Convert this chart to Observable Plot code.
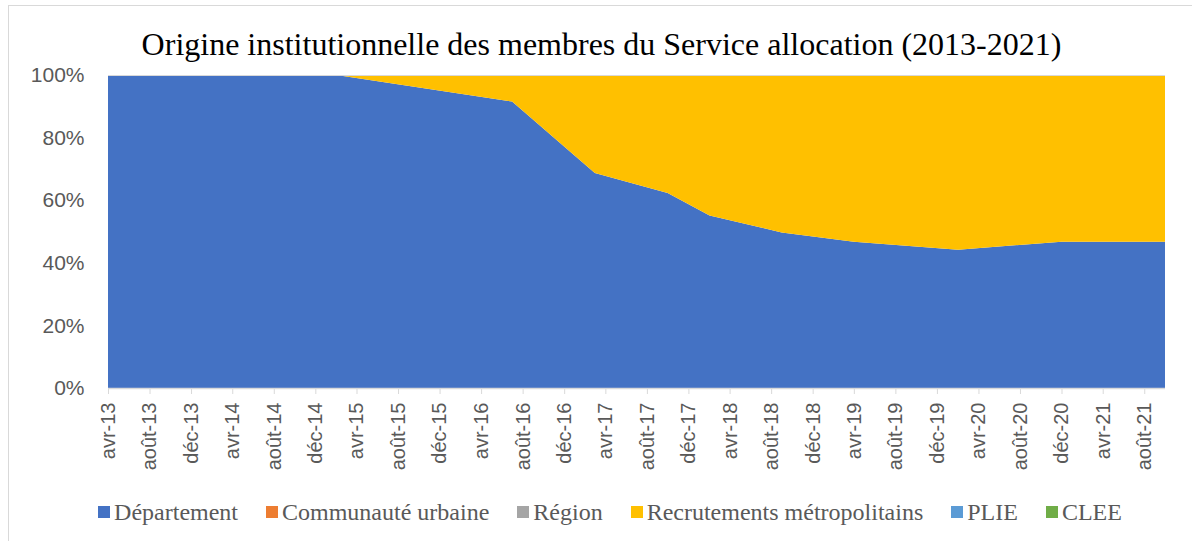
<!DOCTYPE html>
<html><head><meta charset="utf-8">
<script src="https://cdn.jsdelivr.net/npm/d3@7"></script>
<script src="https://cdn.jsdelivr.net/npm/@observablehq/plot@0.6"></script>
<style>
body{margin:0;background:#fff;}
#wrap{position:relative;width:1192px;height:541px;overflow:hidden;background:#fff;}
#frame{position:absolute;left:8px;top:5px;width:1300px;height:600px;border:1px solid #d9d9d9;}
#title{position:absolute;left:0;width:1203px;top:28px;text-align:center;font-family:"Liberation Serif";font-size:32px;color:#000;white-space:nowrap;line-height:1;}
#chart{position:absolute;left:0;top:0;}
#legend{position:absolute;top:500px;left:0;width:1220px;display:flex;justify-content:center;font-family:"Liberation Serif";font-size:24px;color:#595959;white-space:nowrap;line-height:1;}
.item{display:flex;align-items:center;margin:0 14px;}
.sw{width:12px;height:12px;margin-right:4px;display:inline-block;}
</style>
</head><body>
<div id="wrap">
  <div id="frame"></div>
  <div id="chart"></div>
  <div id="title">Origine institutionnelle des membres du Service allocation (2013-2021)</div>
  <div id="legend"></div>
</div>
<script>
// Dates of the data points
const dates = ["2013-04-01","2015-02-01","2016-07-01","2017-03-01","2017-10-01","2018-02-01","2018-09-01","2019-04-01","2020-02-01","2020-12-01","2021-10-01"];
// Shares in % of each institutional origin
const departement  = [100, 100, 91.5, 68.7, 62.3, 55.1, 49.7, 46.7, 44.2, 46.7, 46.7];
const communaute   = [0, 0, 0, 0, 0, 0, 0, 0, 0, 0, 0];
const region       = [0, 0, 0, 0, 0, 0, 0, 0, 0, 0, 0];
const recrutements = [0, 0, 8.5, 31.3, 37.7, 44.9, 50.3, 53.3, 55.8, 53.3, 53.3];
const plie         = [0, 0, 0, 0, 0, 0, 0, 0, 0, 0, 0];
const clee         = [0, 0, 0, 0, 0, 0, 0, 0, 0, 0, 0];

const seriesNames = ["Département","Communauté urbaine","Région","Recrutements métropolitains","PLIE","CLEE"];
const seriesValues = [departement, communaute, region, recrutements, plie, clee];
const seriesColors = ["#4472C4","#ED7D31","#A5A5A5","#FFC000","#5B9BD5","#70AD47"];

const tickLabels = ["avr-13","août-13","déc-13","avr-14","août-14","déc-14","avr-15","août-15","déc-15","avr-16","août-16","déc-16","avr-17","août-17","déc-17","avr-18","août-18","déc-18","avr-19","août-19","déc-19","avr-20","août-20","déc-20","avr-21","août-21"];
const yTicks = [0, 20, 40, 60, 80, 100];

const start = new Date(dates[0]);
const end = new Date(dates[dates.length - 1]);
const tickDates = d3.utcMonth.range(start, new Date("2021-08-02"), 4);
const labelOf = new Map(tickDates.map((d, i) => [d.getTime(), tickLabels[i]]));

const rows = [];
seriesNames.forEach((s, k) => {
  if (d3.max(seriesValues[k]) === 0) return;
  dates.forEach((d, i) => rows.push({date: new Date(d), series: s, value: seriesValues[k][i]}));
});

const chart = Plot.plot({
  width: 1192,
  height: 480,
  marginLeft: 108,
  marginRight: 27,
  marginTop: 75,
  marginBottom: 92,
  style: {fontFamily: "Liberation Sans", fontSize: "20px", background: "transparent", overflow: "visible"},
  x: {type: "utc", domain: [start, end]},
  y: {domain: [0, 100]},
  color: {domain: seriesNames, range: seriesColors},
  marks: [
    Plot.areaY(rows, Plot.stackY({x: "date", y: "value", z: "series", fill: "series", order: seriesNames})),
    Plot.ruleY([100], {stroke: "#d9d9d9", strokeWidth: 1}),
    Plot.ruleY([0], {stroke: "#d9d9d9", strokeWidth: 1.5}),
    Plot.axisX(tickDates, {tickRotate: -90, tickSize: 6, tickPadding: 8, stroke: "#d9d9d9", fill: "#595959", tickFormat: d => labelOf.get(d.getTime()), label: null, fontSize: 20}),
    Plot.axisY(yTicks, {tickSize: 0, tickPadding: 24, fill: "#595959", tickFormat: d => d + "%", label: null, fontSize: 21})
  ]
});
document.getElementById("chart").appendChild(chart);

const legend = document.getElementById("legend");
seriesNames.forEach((s, k) => {
  const it = document.createElement("div");
  it.className = "item";
  const sw = document.createElement("span");
  sw.className = "sw";
  sw.style.background = seriesColors[k];
  it.appendChild(sw);
  it.appendChild(document.createTextNode(s));
  legend.appendChild(it);
});
</script>
</body></html>
